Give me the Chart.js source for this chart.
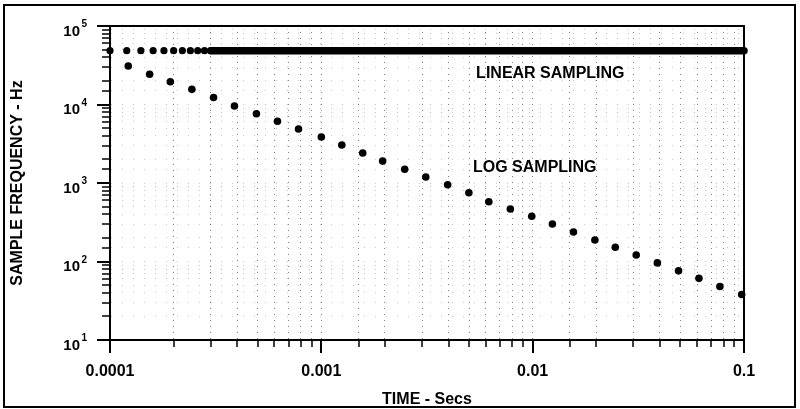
<!DOCTYPE html>
<html>
<head>
<meta charset="utf-8">
<script src="https://cdn.jsdelivr.net/npm/chart.js@4.4.1/dist/chart.umd.min.js"></script>
<style>
  html, body { margin: 0; padding: 0; background: #fff; }
</style>
</head>
<body>
<canvas id="chart" width="800" height="409"></canvas>
<script>
// linear sampling: separate dots at the start, then they merge into a solid band
const linearTime = [0.0001, 0.00012, 0.00014, 0.00016, 0.00018, 0.0002, 0.00022, 0.00024, 0.00026, 0.00028, 0.0003];
const linearFreq = [48500, 48500, 48500, 48500, 48500, 48500, 48500, 48500, 48500, 48500, 48500];
const bandTime = [0.0003, 0.1];
const bandFreq = [48500, 48500];

// log sampling
const logTime = [0.000122, 0.000154, 0.000193, 0.000244, 0.000309, 0.000388, 0.000493, 0.00062, 0.00078, 0.001,
                 0.00125, 0.00157, 0.00195, 0.00248, 0.00312, 0.00396, 0.00499, 0.0062, 0.00784, 0.0099,
                 0.0124, 0.0156, 0.0197, 0.0246, 0.0309, 0.0389, 0.049, 0.0612, 0.0769, 0.0975];
const logFreq = [31000, 24300, 19500, 15600, 12300, 9550, 7640, 6110, 4880, 3850,
                 3050, 2410, 1900, 1500, 1190, 950, 750, 578, 467, 377,
                 301, 238, 188, 152, 121, 96, 76, 61, 48, 38];

// axis ticks
const xTickLabels = { '-4': '0.0001', '-3': '0.001', '-2': '0.01', '-1': '0.1' };
const yTickExps = [1, 2, 3, 4, 5];

// in-plot labels
const noteText = ['LINEAR SAMPLING', 'LOG SAMPLING'];
const noteX = [0.0054, 0.00522];
const noteY = [24460, 1553];

const FONT = "'Liberation Sans', Arial, Helvetica, sans-serif";

const pts = (xs, ys) => xs.map((v, i) => ({ x: v, y: ys[i] }));
const isDecade = v => Math.abs(Math.log10(v) - Math.round(Math.log10(v))) < 1e-6;

// ticks, box, superscript labels, notes, outer frame
const extras = {
  id: 'extras',
  afterDraw(chart) {
    const { ctx, chartArea: a, scales: { x, y } } = chart;
    ctx.save();
    ctx.strokeStyle = '#000';
    ctx.fillStyle = '#000';

    ctx.lineWidth = 2;
    ctx.beginPath();
    ctx.moveTo(a.left, a.top);
    ctx.lineTo(a.right, a.top);
    ctx.lineTo(a.right, a.bottom);
    ctx.stroke();

    x.ticks.forEach(t => {
      const px = Math.round(x.getPixelForValue(t.value));
      const major = isDecade(t.value);
      ctx.lineWidth = major ? 2 : 1.5;
      ctx.beginPath();
      ctx.moveTo(px, a.bottom);
      ctx.lineTo(px, a.bottom + (major ? 13 : 7));
      ctx.stroke();
    });
    y.ticks.forEach(t => {
      const py = Math.round(y.getPixelForValue(t.value));
      const major = isDecade(t.value);
      ctx.lineWidth = major ? 2 : 1.5;
      ctx.beginPath();
      ctx.moveTo(a.left, py);
      ctx.lineTo(a.left - (major ? 13 : 8), py);
      ctx.stroke();
    });

    // 10^n labels
    yTickExps.forEach(e => {
      const py = y.getPixelForValue(Math.pow(10, e));
      ctx.textBaseline = 'alphabetic';
      ctx.textAlign = 'right';
      ctx.font = 'bold 15px ' + FONT;
      ctx.fillText('10', 80, py + 9.5);
      ctx.textAlign = 'left';
      ctx.font = 'bold 10px ' + FONT;
      ctx.fillText(String(e), 81.5, py + 1);
    });

    ctx.font = 'bold 16px ' + FONT;
    ctx.textAlign = 'left';
    ctx.textBaseline = 'middle';
    noteText.forEach((s, i) => {
      ctx.fillText(s, x.getPixelForValue(noteX[i]), y.getPixelForValue(noteY[i]));
    });

    ctx.lineWidth = 2;
    ctx.strokeRect(4, 5, 791, 402);
    ctx.restore();
  }
};

new Chart(document.getElementById('chart'), {
  type: 'scatter',
  data: {
    datasets: [
      {
        data: pts(bandTime, bandFreq),
        showLine: true,
        borderColor: '#000',
        borderWidth: 7.5,
        borderCapStyle: 'round',
        pointRadius: 0,
        clip: false
      },
      {
        data: pts(linearTime, linearFreq),
        backgroundColor: '#000',
        borderWidth: 0,
        pointRadius: 3.6,
        clip: false
      },
      {
        data: pts(logTime, logFreq),
        backgroundColor: '#000',
        borderWidth: 0,
        pointRadius: 3.8,
        clip: false
      }
    ]
  },
  options: {
    responsive: false,
    animation: false,
    events: [],
    layout: { padding: { left: 0, right: 56, top: 26, bottom: 0 } },
    plugins: { legend: { display: false }, tooltip: { enabled: false } },
    scales: {
      x: {
        type: 'logarithmic',
        min: 0.0001,
        max: 0.1,
        afterFit: s => { s.height = 69; },
        border: { display: true, color: '#000', width: 2, dash: [1, 5] },
        grid: { color: 'rgba(0,0,0,0.5)', lineWidth: 1, drawTicks: false },
        ticks: {
          autoSkip: false,
          maxRotation: 0,
          minRotation: 0,
          padding: 22,
          color: '#000',
          font: { family: FONT, size: 16, weight: 'bold' },
          callback: v => isDecade(v) && xTickLabels[Math.round(Math.log10(v))] ? xTickLabels[Math.round(Math.log10(v))] : ''
        },
        title: {
          display: true,
          text: 'TIME - Secs',
          color: '#000',
          font: { family: FONT, size: 16, weight: 'bold' },
          padding: { top: 0, bottom: 0 }
        }
      },
      y: {
        type: 'logarithmic',
        min: 10,
        max: 100000,
        afterFit: s => { s.width = 110; },
        border: { display: true, color: '#000', width: 2, dash: [1, 10] },
        grid: { color: 'rgba(0,0,0,0.22)', lineWidth: 1, drawTicks: false },
        ticks: { display: false, autoSkip: false },
        title: {
          display: true,
          text: 'SAMPLE FREQUENCY - Hz',
          color: '#000',
          font: { family: FONT, size: 16, weight: 'bold' },
          padding: { top: 8, bottom: 0 }
        }
      }
    }
  },
  plugins: [extras]
});
</script>
</body>
</html>
